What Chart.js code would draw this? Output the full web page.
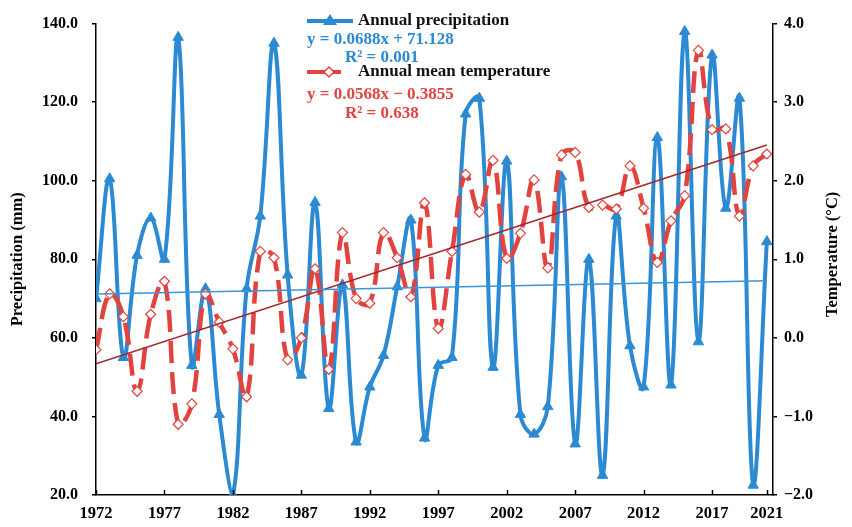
<!DOCTYPE html>
<html>
<head>
<meta charset="utf-8">
<script src="https://cdn.jsdelivr.net/npm/chart.js@4.4.1/dist/chart.umd.min.js"></script>
<style>
  html, body { margin: 0; padding: 0; background: #fff; }
  #wrap { width: 852px; height: 527px; }
</style>
</head>
<body>
<div id="wrap"><canvas id="c" width="852" height="527"></canvas></div>
<script>
// years on the x axis
var firstYear = 1972, lastYear = 2021;
var years = [];
for (var yr = firstYear; yr <= lastYear; yr++) years.push(yr);
var yearTicks = [1972, 1977, 1982, 1987, 1992, 1997, 2002, 2007, 2012, 2017, 2021];

// annual precipitation (mm)
var precipitation = [
  70, 100.5, 55, 81, 90.5, 80, 136.5, 53, 72.5, 40.5,
  20, 72.5, 91, 135, 76, 50.5, 94.5, 42, 73.5, 33.5,
  47.5, 55.5, 73, 90, 34.5, 53, 55, 117, 121, 52.5,
  105, 40.5, 35.5, 42.5, 101, 33, 80, 25, 91, 58,
  47.5, 111, 48, 138, 59, 132, 93, 121, 22.5, 84.5
];

// annual mean temperature (°C)
var temperature = [
  -0.15, 0.56, 0.27, -0.68, 0.30, 0.72, -1.1, -0.84, 0.56, 0.2,
  -0.14, -0.75, 1.1, 1.02, -0.28, 0.0, 0.88, -0.4, 1.34, 0.5,
  0.44, 1.34, 1.02, 0.52, 1.72, 0.12, 1.1, 2.08, 1.6, 2.26,
  1.01, 1.33, 2.01, 0.89, 2.33, 2.36, 1.66, 1.69, 1.64, 2.19,
  1.65, 0.96, 1.49, 1.81, 3.66, 2.65, 2.66, 1.55, 2.19, 2.34
];

// trend equations shown in the legend (x = 1..n)
var precipFit = { slope: 0.0688, intercept: 71.128, r2: '0.001' };
var tempFit = { slope: 0.0568, intercept: -0.3855, r2: '0.638' };

var BLUE = '#2b8ad2', RED = '#e2433f', DARKRED = '#a3282b', TRENDBLUE = '#3a95dc';
var FONT = '"Liberation Serif", "Times New Roman", serif';

var toPoints = function (vals) {
  return vals.map(function (v, i) { return { x: years[i], y: v }; });
};
var trendPoints = function (fit) {
  var n = years.length;
  return [
    { x: years[0], y: fit.intercept + fit.slope * 1 },
    { x: years[n - 1], y: fit.intercept + fit.slope * n }
  ];
};
var fmtTick = function (v) {
  return v.toFixed(1).replace('-', '\u2212');
};

// axes decoration, titles and the legend block
var decor = {
  id: 'decor',
  afterDraw: function (chart) {
    var ctx = chart.ctx,
        xs = chart.scales.x,
        a = chart.chartArea;
    ctx.save();
    // inward x ticks
    ctx.strokeStyle = '#000';
    ctx.lineWidth = 1.5;
    yearTicks.forEach(function (t) {
      var px = Math.round(xs.getPixelForValue(t)) + 0.5;
      ctx.beginPath();
      ctx.moveTo(px, a.bottom);
      ctx.lineTo(px, a.bottom - 5);
      ctx.stroke();
    });

    // axis titles
    ctx.fillStyle = '#000';
    ctx.font = 'bold 16.5px ' + FONT;
    ctx.textAlign = 'center';
    ctx.textBaseline = 'middle';
    ctx.save();
    ctx.translate(18, (a.top + a.bottom) / 2);
    ctx.rotate(-Math.PI / 2);
    ctx.fillText('Precipitation (mm)', 0, 0);
    ctx.restore();
    ctx.save();
    ctx.translate(833, (a.top + a.bottom) / 2 - 5);
    ctx.rotate(-Math.PI / 2);
    ctx.fillText('Temperature (\u00B0C)', 0, 0);
    ctx.restore();

    // legend
    ctx.textAlign = 'left';
    ctx.lineCap = 'butt';
    ctx.strokeStyle = BLUE;
    ctx.lineWidth = 4;
    ctx.beginPath();
    ctx.moveTo(307, 21);
    ctx.lineTo(353, 21);
    ctx.stroke();
    ctx.fillStyle = BLUE;
    ctx.beginPath();
    ctx.moveTo(330, 14);
    ctx.lineTo(337, 25);
    ctx.lineTo(323, 25);
    ctx.closePath();
    ctx.fill();

    ctx.strokeStyle = RED;
    ctx.beginPath();
    ctx.moveTo(307, 72);
    ctx.lineTo(341, 72);
    ctx.stroke();
    ctx.fillStyle = '#fff';
    ctx.lineWidth = 1.5;
    ctx.beginPath();
    ctx.moveTo(329, 67);
    ctx.lineTo(334, 72);
    ctx.lineTo(329, 77);
    ctx.lineTo(324, 72);
    ctx.closePath();
    ctx.fill();
    ctx.stroke();

    ctx.font = 'bold 17px ' + FONT;
    ctx.fillStyle = '#111';
    ctx.fillText('Annual precipitation', 358, 21);
    ctx.fillText('Annual mean temperature', 358, 72);
    ctx.fillStyle = BLUE;
    ctx.fillText('y = ' + precipFit.slope + 'x + ' + precipFit.intercept, 307, 40);
    ctx.fillText('R\u00B2 = ' + precipFit.r2, 345, 58);
    ctx.fillStyle = RED;
    ctx.fillText('y = ' + tempFit.slope + 'x \u2212 ' + Math.abs(tempFit.intercept), 307, 95);
    ctx.fillText('R\u00B2 = ' + tempFit.r2, 345, 114);
    ctx.restore();
  }
};

var yTickFont = { family: FONT, size: 16, weight: 'bold' };

new Chart(document.getElementById('c'), {
  type: 'line',
  data: {
    datasets: [
      {
        label: 'Annual precipitation trend',
        data: trendPoints(precipFit),
        yAxisID: 'y',
        borderColor: TRENDBLUE,
        borderWidth: 1.5,
        pointRadius: 0,
        tension: 0,
        order: 0
      },
      {
        label: 'Annual mean temperature trend',
        data: trendPoints(tempFit),
        yAxisID: 'y1',
        borderColor: DARKRED,
        borderWidth: 1.5,
        pointRadius: 0,
        tension: 0,
        order: 0
      },
      {
        label: 'Annual mean temperature',
        data: toPoints(temperature),
        yAxisID: 'y1',
        borderColor: RED,
        borderWidth: 4.5,
        borderDash: [22, 9],
        tension: 0.4,
        pointStyle: 'rectRot',
        pointRadius: 5,
        pointBackgroundColor: '#fff',
        pointBorderColor: RED,
        pointBorderWidth: 1.2,
        order: 1
      },
      {
        label: 'Annual precipitation',
        data: toPoints(precipitation),
        yAxisID: 'y',
        borderColor: BLUE,
        borderWidth: 4,
        tension: 0.4,
        pointStyle: 'triangle',
        pointRadius: 6,
        pointBackgroundColor: BLUE,
        pointBorderColor: BLUE,
        pointBorderWidth: 1,
        order: 2
      }
    ]
  },
  options: {
    responsive: false,
    animation: false,
    devicePixelRatio: 1,
    layout: { padding: { top: 15, left: 0, right: 0, bottom: 0 } },
    plugins: {
      legend: { display: false },
      tooltip: { enabled: false }
    },
    scales: {
      x: {
        type: 'linear',
        min: firstYear,
        max: 2021.45,
        afterBuildTicks: function (scale) {
          scale.ticks = yearTicks.map(function (v) { return { value: v }; });
        },
        afterFit: function (scale) { scale.height = 32; },
        grid: { display: false, drawTicks: false },
        border: { display: true, color: '#000', width: 1.5 },
        ticks: {
          padding: 9,
          color: '#000',
          font: { family: FONT, size: 16.5, weight: 'bold' },
          maxRotation: 0,
          autoSkip: false,
          callback: function (v) { return String(v); }
        }
      },
      y: {
        position: 'left',
        min: 20,
        max: 140,
        afterFit: function (scale) { scale.width = 96; },
        grid: { drawOnChartArea: false, drawTicks: true, tickLength: 4, color: '#000', lineWidth: 1.5 },
        border: { display: true, color: '#000', width: 1.5 },
        ticks: {
          stepSize: 20,
          padding: 14,
          color: '#000',
          font: yTickFont,
          callback: fmtTick
        }
      },
      y1: {
        position: 'right',
        min: -2,
        max: 4,
        afterFit: function (scale) { scale.width = 79; },
        grid: { drawOnChartArea: false, drawTicks: true, tickLength: 4, color: '#000', lineWidth: 1.5 },
        border: { display: true, color: '#000', width: 1.5 },
        ticks: {
          stepSize: 1,
          padding: 7,
          color: '#000',
          font: yTickFont,
          callback: fmtTick
        }
      }
    }
  },
  plugins: [decor]
});
</script>
</body>
</html>
